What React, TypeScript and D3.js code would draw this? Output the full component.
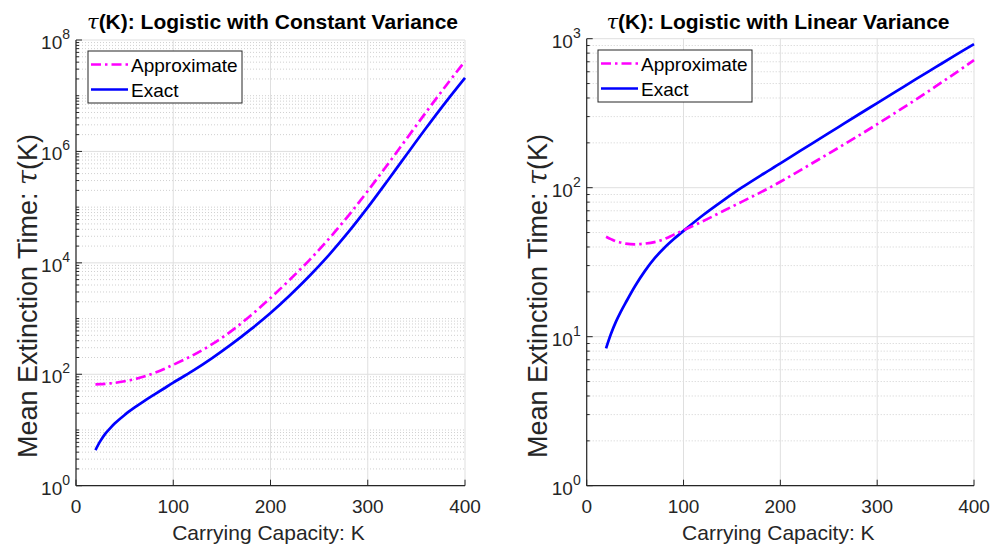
import React from 'react';
import * as d3 from 'd3';

// Carrying capacity K (x axis)
const K = [20, 25, 30, 35, 40, 50, 60, 70, 80, 90, 100, 120, 140, 160, 180, 200, 220, 240, 260, 280, 300, 320, 340, 360, 380, 400];

// Left panel: Logistic with constant variance
const constApprox = [66.07, 66.37, 67.3, 68.55, 70.15, 74.99, 81.28, 91.2, 104.7, 123.0, 147.9, 218.8, 346.7, 602.6, 1148, 2344, 5012, 11220, 26915, 69984, 194984, 568853, 1698244, 5069907, 14791084, 41686938];
const constExact = [4.365, 6.31, 8.511, 10.72, 13.18, 18.62, 25.12, 33.11, 42.66, 54.95, 70.79, 114.8, 195.0, 346.7, 645.7, 1259, 2630, 5821, 13804, 35481, 98855, 291743, 881049, 2630268, 7585776, 20892961];

// Right panel: Logistic with linear variance
const linApprox = [46.88, 45.19, 43.65, 42.85, 42.17, 41.69, 42.17, 43.15, 45.19, 48.42, 51.88, 59.57, 69.18, 80.35, 93.33, 109.6, 130.3, 155.2, 185.4, 221.8, 266.7, 322.1, 390.8, 476.4, 583.4, 717.8];
const linExact = [8.356, 10.42, 12.53, 14.62, 16.79, 21.88, 27.54, 33.5, 39.36, 45.19, 51.29, 65.31, 81.28, 100, 121.1, 145.5, 175.8, 211.8, 255.3, 307.6, 369.8, 444.6, 534.6, 641.2, 769.1, 920.4];

const xTicks = [0, 100, 200, 300, 400];
const leftYExps = [0, 2, 4, 6, 8];
const rightYExps = [0, 1, 2, 3];
const seriesNames = ['Approximate', 'Exact'];

const FONT = '"Liberation Sans", Arial, Helvetica, sans-serif';
const AX = '#262626';
const MAGENTA = '#ff00ff';
const BLUE = '#0000ff';

type PanelProps = {
  x0: number; x1: number; y0: number; y1: number;
  nDec: number; labelExps: number[];
  title: string; approx: number[]; exact: number[];
  legendX: number; legendY: number; ylabelX: number; titleX: number;
};

function Panel(p: PanelProps) {
  const x = d3.scaleLinear().domain([0, 400]).range([p.x0, p.x1]);
  const y = d3.scaleLog().domain([1, Math.pow(10, p.nDec)]).range([p.y1, p.y0]);
  const minor: number[] = [];
  for (let d = 0; d < p.nDec; d++) {
    for (let m = 1; m <= 9; m++) {
      if (m === 1 && p.labelExps.includes(d)) continue;
      minor.push(m * Math.pow(10, d));
    }
  }
  const line = d3.line<number>()
    .x((_, i) => x(K[i]))
    .y((v) => y(v))
    .curve(d3.curveCatmullRom.alpha(0.5));
  const cx = (p.x0 + p.x1) / 2;
  const lw = 154, lh = 52;
  return (
    <g>
      {minor.map((v, i) => (
        <line key={'mg' + i} x1={p.x0} x2={p.x1} y1={y(v)} y2={y(v)} stroke="#d0d0d0" strokeWidth={1} strokeDasharray="1,2" />
      ))}
      {p.labelExps.map((e) => (
        <line key={'Mg' + e} x1={p.x0} x2={p.x1} y1={y(Math.pow(10, e))} y2={y(Math.pow(10, e))} stroke="#dfdfdf" strokeWidth={1} />
      ))}
      {xTicks.map((t) => (
        <line key={'xg' + t} x1={x(t)} x2={x(t)} y1={p.y0} y2={p.y1} stroke="#dfdfdf" strokeWidth={1} />
      ))}
      <path d={line(p.exact) || ''} fill="none" stroke={BLUE} strokeWidth={2.7} />
      <path d={line(p.approx) || ''} fill="none" stroke={MAGENTA} strokeWidth={2.7} strokeDasharray="10,4,2.5,4" />
      <line x1={p.x0} x2={p.x0} y1={p.y0} y2={p.y1} stroke={AX} strokeWidth={1.2} />
      <line x1={p.x0} x2={p.x1} y1={p.y1} y2={p.y1} stroke={AX} strokeWidth={1.2} />
      {minor.map((v, i) => (
        <line key={'mt' + i} x1={p.x0} x2={p.x0 + 3} y1={y(v)} y2={y(v)} stroke={AX} strokeWidth={1} />
      ))}
      {p.labelExps.map((e) => (
        <line key={'Mt' + e} x1={p.x0} x2={p.x0 + 6} y1={y(Math.pow(10, e))} y2={y(Math.pow(10, e))} stroke={AX} strokeWidth={1} />
      ))}
      {xTicks.map((t) => (
        <line key={'xt' + t} x1={x(t)} x2={x(t)} y1={p.y1} y2={p.y1 - 6} stroke={AX} strokeWidth={1} />
      ))}
      {p.labelExps.map((e) => (
        <text key={'yl' + e} x={p.x0 - 6} y={y(Math.pow(10, e)) + 9} textAnchor="end" fontFamily={FONT} fontSize={19} fill={AX}>
          10<tspan dy={-10} fontSize={14}>{e}</tspan>
        </text>
      ))}
      {xTicks.map((t) => (
        <text key={'xl' + t} x={x(t)} y={p.y1 + 27} textAnchor="middle" fontFamily={FONT} fontSize={19} fill={AX}>{t}</text>
      ))}
      <text x={cx - 2} y={p.y1 + 54} textAnchor="middle" fontFamily={FONT} fontSize={21} fill={AX}>Carrying Capacity: K</text>
      <text transform={`translate(${p.ylabelX},296) rotate(-90)`} textAnchor="middle" fontFamily={FONT} fontSize={27} fill={AX}>
        Mean Extinction Time: <tspan fontStyle="italic" fontFamily='"DejaVu Serif", serif'>τ</tspan>(K)
      </text>
      <text x={p.titleX} y={29} textAnchor="middle" fontFamily={FONT} fontSize={21} fontWeight="bold" fill="#000">
        <tspan fontStyle="italic" fontFamily='"DejaVu Serif", serif' fontWeight="normal">τ</tspan>(K): {p.title}
      </text>
      <rect x={p.legendX} y={p.legendY} width={lw} height={lh} fill="#fff" stroke={AX} strokeWidth={1} />
      <line x1={p.legendX + 3} x2={p.legendX + 40} y1={p.legendY + 13.5} y2={p.legendY + 13.5} stroke={MAGENTA} strokeWidth={2.7} strokeDasharray="10,4,2.5,4" />
      <line x1={p.legendX + 3} x2={p.legendX + 40} y1={p.legendY + 38.5} y2={p.legendY + 38.5} stroke={BLUE} strokeWidth={2.7} />
      <text x={p.legendX + 43} y={p.legendY + 20.5} fontFamily={FONT} fontSize={19} fill="#000">{seriesNames[0]}</text>
      <text x={p.legendX + 43} y={p.legendY + 45.5} fontFamily={FONT} fontSize={19} fill="#000">{seriesNames[1]}</text>
    </g>
  );
}

export default function App() {
  return (
    <svg width={1001} height={544} style={{ position: 'absolute', left: 0, top: 0, background: '#fff' }}>
      <rect x={0} y={0} width={1001} height={544} fill="#fff" />
      <Panel x0={76} x1={465} y0={40} y1={485.7} nDec={8} labelExps={leftYExps}
        title="Logistic with Constant Variance" approx={constApprox} exact={constExact}
        legendX={88} legendY={51} ylabelX={37} titleX={272.5} />
      <Panel x0={586.7} x1={974} y0={38.7} y1={485.7} nDec={3} labelExps={rightYExps}
        title="Logistic with Linear Variance" approx={linApprox} exact={linExact}
        legendX={598} legendY={50} ylabelX={547} titleX={778} />
    </svg>
  );
}
